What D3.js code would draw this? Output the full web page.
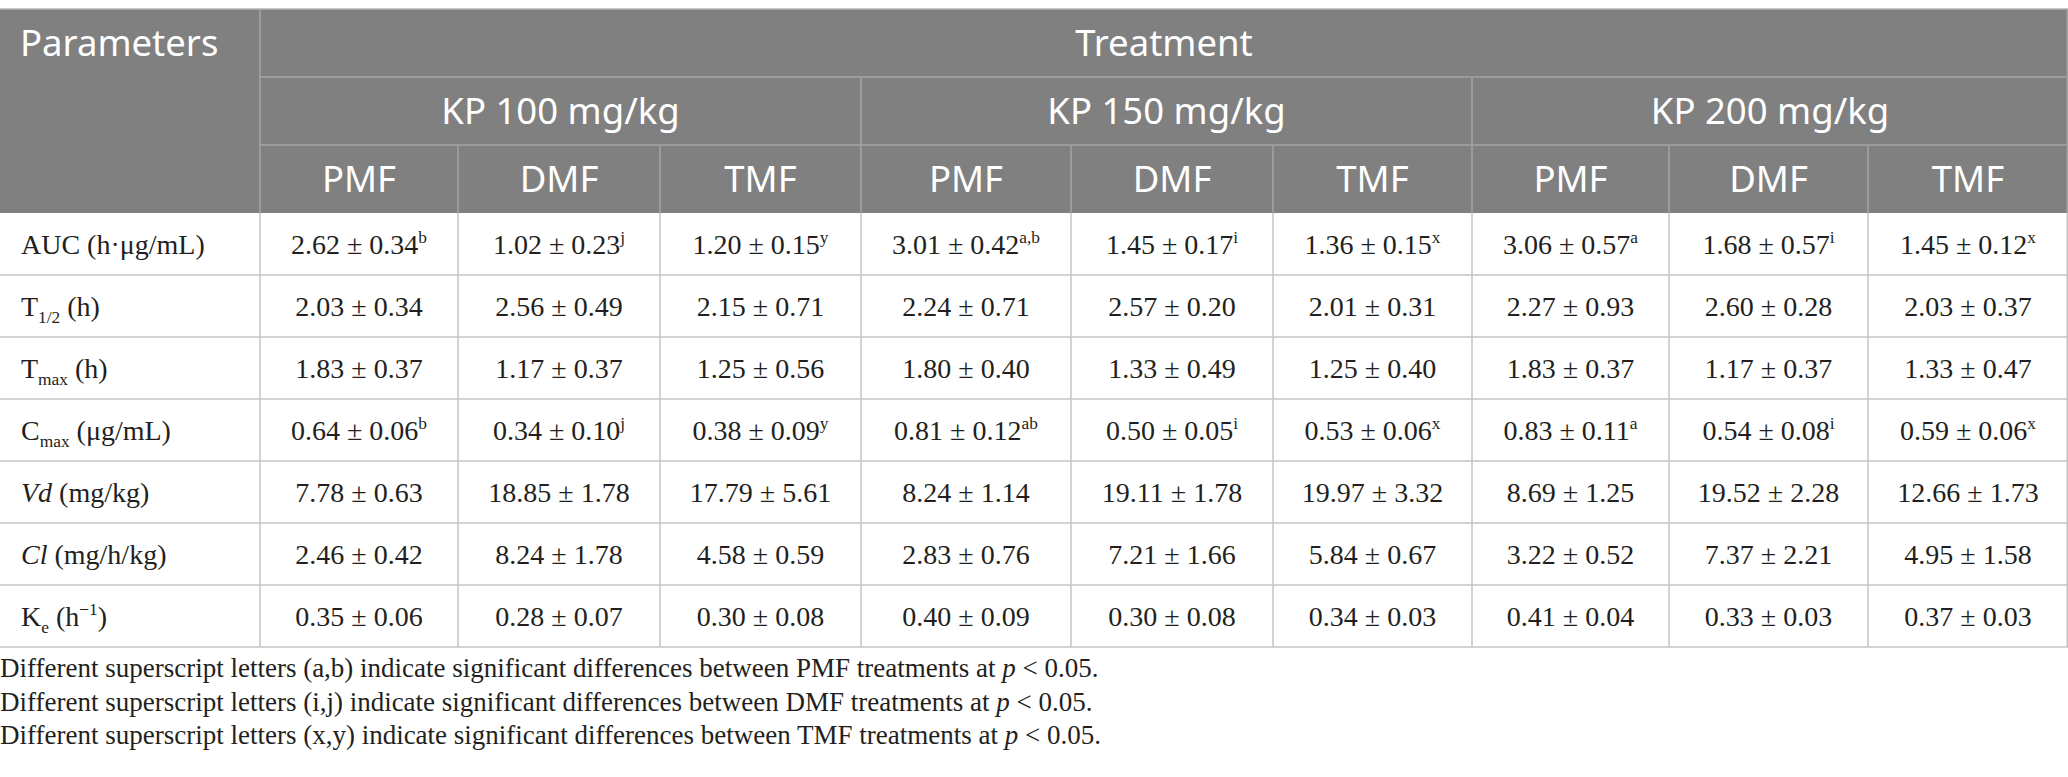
<!DOCTYPE html>
<html>
<head>
<meta charset="utf-8">
<script src="https://cdn.jsdelivr.net/npm/d3@7"></script>
<style>
  body { margin: 0; background: #fff; }
  svg { display: block; }
</style>
</head>
<body>
<svg id="chart"></svg>
<script>
// table content
const doses = ["KP 100 mg/kg", "KP 150 mg/kg", "KP 200 mg/kg"];
const forms = ["PMF", "DMF", "TMF"];

// parameter labels, split into parts (sub = subscript, sup = superscript, it = italic)
const paramLabels = [
  [{t: "AUC (h·μg/mL)"}],
  [{t: "T"}, {t: "1/2", sub: true}, {t: " (h)"}],
  [{t: "T"}, {t: "max", sub: true}, {t: " (h)"}],
  [{t: "C"}, {t: "max", sub: true}, {t: " (μg/mL)"}],
  [{t: "Vd", it: true}, {t: " (mg/kg)"}],
  [{t: "Cl", it: true}, {t: " (mg/h/kg)"}],
  [{t: "K"}, {t: "e", sub: true}, {t: " (h"}, {t: "−1", sup: true}, {t: ")"}]
];

// mean, sd, superscript letters; order KP100 PMF/DMF/TMF, KP150 ..., KP200 ...
const aucMean = [2.62, 1.02, 1.20, 3.01, 1.45, 1.36, 3.06, 1.68, 1.45];
const aucSd   = [0.34, 0.23, 0.15, 0.42, 0.17, 0.15, 0.57, 0.57, 0.12];
const aucSup  = ["b", "j", "y", "a,b", "i", "x", "a", "i", "x"];

const halfMean = [2.03, 2.56, 2.15, 2.24, 2.57, 2.01, 2.27, 2.60, 2.03];
const halfSd   = [0.34, 0.49, 0.71, 0.71, 0.20, 0.31, 0.93, 0.28, 0.37];

const tmaxMean = [1.83, 1.17, 1.25, 1.80, 1.33, 1.25, 1.83, 1.17, 1.33];
const tmaxSd   = [0.37, 0.37, 0.56, 0.40, 0.49, 0.40, 0.37, 0.37, 0.47];

const cmaxMean = [0.64, 0.34, 0.38, 0.81, 0.50, 0.53, 0.83, 0.54, 0.59];
const cmaxSd   = [0.06, 0.10, 0.09, 0.12, 0.05, 0.06, 0.11, 0.08, 0.06];
const cmaxSup  = ["b", "j", "y", "ab", "i", "x", "a", "i", "x"];

const vdMean = [7.78, 18.85, 17.79, 8.24, 19.11, 19.97, 8.69, 19.52, 12.66];
const vdSd   = [0.63, 1.78, 5.61, 1.14, 1.78, 3.32, 1.25, 2.28, 1.73];

const clMean = [2.46, 8.24, 4.58, 2.83, 7.21, 5.84, 3.22, 7.37, 4.95];
const clSd   = [0.42, 1.78, 0.59, 0.76, 1.66, 0.67, 0.52, 2.21, 1.58];

const keMean = [0.35, 0.28, 0.30, 0.40, 0.30, 0.34, 0.41, 0.33, 0.37];
const keSd   = [0.06, 0.07, 0.08, 0.09, 0.08, 0.03, 0.04, 0.03, 0.03];

const noSup = ["", "", "", "", "", "", "", "", ""];

const footnotes = [
  [{t: "Different superscript letters (a,b) indicate significant differences between PMF treatments at "}, {t: "p", it: true}, {t: " < 0.05."}],
  [{t: "Different superscript letters (i,j) indicate significant differences between DMF treatments at "}, {t: "p", it: true}, {t: " < 0.05."}],
  [{t: "Different superscript letters (x,y) indicate significant differences between TMF treatments at "}, {t: "p", it: true}, {t: " < 0.05."}]
];

const rows = [
  [aucMean, aucSd, aucSup],
  [halfMean, halfSd, noSup],
  [tmaxMean, tmaxSd, noSup],
  [cmaxMean, cmaxSd, cmaxSup],
  [vdMean, vdSd, noSup],
  [clMean, clSd, noSup],
  [keMean, keSd, noSup]
].map((r, i) => ({
  label: paramLabels[i],
  cells: r[0].map((m, j) => ({mean: m, sd: r[1][j], sup: r[2][j]}))
}));

// layout
const W = 2068, H = 777;
const tableTop = 9, paramW = 260;
const headH = [68, 68, 68];
const bodyTop = tableTop + d3.sum(headH);
const rowH = 62;
// relative widths of the nine value columns (as measured)
const colWidths = [198, 202, 201, 210, 202, 199, 197, 199, 200];
const headFill = "#7f807f", headLine = "#a3a4a3", bodyLine = "#c4c4c4";
const sansFont = "'Noto Sans', 'Open Sans', sans-serif";
const serifFont = "'Liberation Serif', 'DejaVu Serif', serif";
const headSize = 36.5, bodySize = 28, noteSize = 27;
const fmt = d3.format(".2f");

const svg = d3.select("#chart").attr("width", W).attr("height", H);

const subCols = d3.range(doses.length * forms.length);
// cumulative column edges through a linear scale
const cum = [0, ...d3.cumsum(colWidths)];
const xs = d3.scaleLinear().domain([0, d3.sum(colWidths)]).range([paramW, W]);
const colLeft = i => xs(cum[i]);
const colMid = i => (xs(cum[i]) + xs(cum[i + 1])) / 2;
const doseLeft = k => colLeft(k * forms.length);
const doseMid = k => (doseLeft(k) + xs(cum[(k + 1) * forms.length])) / 2;
const y = d3.scaleBand().domain(d3.range(rows.length))
  .range([bodyTop, bodyTop + rowH * rows.length]);

// helper to write parts into a text element
function addParts(sel, parts, size) {
  let shift = 0;
  parts.forEach(p => {
    let want = p.sub ? size * 0.26 : p.sup ? -size * 0.38 : 0;
    sel.append("tspan")
      .attr("dy", want - shift)
      .style("font-size", (p.sub || p.sup) ? (size * 0.62) + "px" : null)
      .style("font-style", p.it ? "italic" : null)
      .text(p.t);
    shift = want;
  });
}

// header background
const head = svg.append("g");
head.append("rect")
  .attr("x", 0).attr("y", tableTop)
  .attr("width", W).attr("height", d3.sum(headH))
  .attr("fill", headFill);

// header lines
const hy1 = tableTop + headH[0], hy2 = hy1 + headH[1], hy3 = hy2 + headH[2];
head.append("line").attr("x1", 0).attr("x2", W).attr("y1", tableTop).attr("y2", tableTop)
  .attr("stroke", "#b5b5b5").attr("stroke-width", 1.5);
head.append("line").attr("x1", paramW).attr("x2", W).attr("y1", hy1).attr("y2", hy1)
  .attr("stroke", headLine).attr("stroke-width", 1.5);
head.append("line").attr("x1", paramW).attr("x2", W).attr("y1", hy2).attr("y2", hy2)
  .attr("stroke", headLine).attr("stroke-width", 1.5);
head.selectAll("line.dose")
  .data([1, 2])
  .join("line")
  .attr("class", "dose")
  .attr("x1", d => doseLeft(d)).attr("x2", d => doseLeft(d))
  .attr("y1", hy1).attr("y2", hy3)
  .attr("stroke", headLine).attr("stroke-width", 1.5);
head.selectAll("line.sub")
  .data(subCols.filter(i => i % forms.length != 0))
  .join("line")
  .attr("class", "sub")
  .attr("x1", d => colLeft(d)).attr("x2", d => colLeft(d))
  .attr("y1", hy2).attr("y2", hy3)
  .attr("stroke", headLine).attr("stroke-width", 1.5);

// header texts
const headBase = h => h / 2 + headSize * 0.36;
head.append("text")
  .attr("x", 20).attr("y", tableTop + headBase(headH[0]))
  .attr("fill", "#fff")
  .style("font", headSize + "px " + sansFont)
  .text("Parameters");
head.append("text")
  .attr("x", paramW + (W - paramW) / 2).attr("y", tableTop + headBase(headH[0]))
  .attr("text-anchor", "middle").attr("fill", "#fff")
  .style("font", headSize + "px " + sansFont)
  .text("Treatment");
head.selectAll("text.dose")
  .data(doses)
  .join("text")
  .attr("class", "dose")
  .attr("x", (d, k) => doseMid(k))
  .attr("y", hy1 + headBase(headH[1]))
  .attr("text-anchor", "middle").attr("fill", "#fff")
  .style("font", headSize + "px " + sansFont)
  .text(d => d);
head.selectAll("text.sub")
  .data(subCols)
  .join("text")
  .attr("class", "sub")
  .attr("x", d => colMid(d))
  .attr("y", hy2 + headBase(headH[2]))
  .attr("text-anchor", "middle").attr("fill", "#fff")
  .style("font", headSize + "px " + sansFont)
  .text(d => forms[d % forms.length]);

// body lines
const body = svg.append("g");
body.selectAll("line.row")
  .data(d3.range(rows.length))
  .join("line")
  .attr("class", "row")
  .attr("x1", 0).attr("x2", W)
  .attr("y1", d => y(d) + rowH).attr("y2", d => y(d) + rowH)
  .attr("stroke", bodyLine).attr("stroke-width", 1.5);
body.selectAll("line.col")
  .data(subCols.concat([subCols.length]))
  .join("line")
  .attr("class", "col")
  .attr("x1", d => d < subCols.length ? colLeft(d) : W - 0.75)
  .attr("x2", d => d < subCols.length ? colLeft(d) : W - 0.75)
  .attr("y1", bodyTop).attr("y2", bodyTop + rowH * rows.length)
  .attr("stroke", bodyLine).attr("stroke-width", 1.5);
// header right edge + param column separator
svg.append("line").attr("x1", W - 0.75).attr("x2", W - 0.75).attr("y1", tableTop).attr("y2", bodyTop)
  .attr("stroke", headLine).attr("stroke-width", 1.5);
svg.append("line").attr("x1", paramW).attr("x2", paramW).attr("y1", tableTop).attr("y2", bodyTop)
  .attr("stroke", headLine).attr("stroke-width", 1.5);

// body rows
const rowG = body.selectAll("g.r")
  .data(rows)
  .join("g")
  .attr("class", "r")
  .attr("transform", (d, i) => `translate(0,${y(i) + rowH / 2 + 10})`);

rowG.append("text")
  .attr("x", 21)
  .attr("fill", "#231f20")
  .style("font", bodySize + "px " + serifFont)
  .each(function (d) { addParts(d3.select(this), d.label, bodySize); });

rowG.selectAll("text.v")
  .data(d => d.cells)
  .join("text")
  .attr("class", "v")
  .attr("x", (d, j) => colMid(j))
  .attr("text-anchor", "middle")
  .attr("fill", "#231f20")
  .style("font", bodySize + "px " + serifFont)
  .each(function (d) {
    let parts = [{t: fmt(d.mean) + " ± " + fmt(d.sd)}];
    if (d.sup) parts.push({t: d.sup, sup: true});
    addParts(d3.select(this), parts, bodySize);
  });

// footnotes
svg.selectAll("text.fn")
  .data(footnotes)
  .join("text")
  .attr("class", "fn")
  .attr("x", 0)
  .attr("y", (d, i) => 677 + i * 33.5)
  .attr("fill", "#231f20")
  .style("font", noteSize + "px " + serifFont)
  .each(function (d) { addParts(d3.select(this), d, noteSize); });
</script>
</body>
</html>
